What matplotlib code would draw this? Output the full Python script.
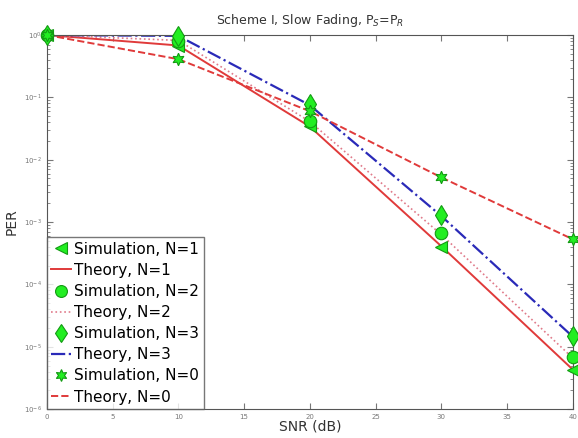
import numpy as np
import matplotlib
matplotlib.use('Agg')
import matplotlib.pyplot as plt

# SNR points (dB)
snr = [0, 10, 20, 30, 40]

# Simulated PER
sim_n1 = [1.0, 0.66, 0.035, 4.0e-4, 4.2e-6]
sim_n2 = [1.0, 0.80, 0.042, 6.6e-4, 6.8e-6]
sim_n3 = [1.0, 0.97, 0.078, 1.3e-3, 1.5e-5]
sim_n0 = [1.0, 0.41, 0.060, 5.2e-3, 5.3e-4]

# Theoretical PER
th_n1 = [1.0, 0.68, 0.034, 4.1e-4, 4.3e-6]
th_n2 = [1.0, 0.82, 0.041, 6.3e-4, 6.6e-6]
th_n3 = [1.0, 0.97, 0.075, 1.25e-3, 1.45e-5]
th_n0 = [1.0, 0.41, 0.060, 5.2e-3, 5.3e-4]

red = '#e03a3a'
pink = '#e07a8a'
blue = '#2a2ab8'
green = '#22ee22'
edge = '#139a13'

fig = plt.figure(figsize=(5.78, 4.38), dpi=100)
ax = fig.add_axes([0.081, 0.066, 0.910, 0.854])

mk = dict(linestyle='none', color=green, markeredgecolor=edge, markeredgewidth=0.8,
          zorder=5, clip_on=False)
ax.plot(snr, sim_n1, marker='<', markersize=9, label='Simulation, N=1', **mk)
ax.plot(snr, th_n1, color=red, linestyle='-', linewidth=1.4, label='Theory, N=1')
ax.plot(snr, sim_n2, marker='o', markersize=9, label='Simulation, N=2', **mk)
ax.plot(snr, th_n2, color=pink, linestyle=':', linewidth=1.2, label='Theory, N=2')
ax.plot(snr, sim_n3, marker='d', markersize=10, label='Simulation, N=3', **mk)
ax.plot(snr, th_n3, color=blue, linestyle='-.', linewidth=1.6, label='Theory, N=3')
ax.plot(snr, sim_n0, marker=(6, 1, 0), markersize=9, label='Simulation, N=0', **mk)
ax.plot(snr, th_n0, color=red, linestyle='--', linewidth=1.4, label='Theory, N=0')

ax.set_yscale('log')
ax.set_xlim(0, 40)
ax.set_ylim(1e-6, 1)
ax.set_xticks(range(0, 41, 5))
ax.tick_params(which='both', direction='in', top=True, right=True,
               labelsize=5, labelcolor='#777777', color='#777777')
ax.tick_params(which='major', length=4)
ax.tick_params(which='minor', length=2)
for s in ax.spines.values():
    s.set_color('#555555')

ax.set_title('Scheme I, Slow Fading, P$_S$=P$_R$', fontsize=9, color='#333333', pad=8)
ax.set_xlabel('SNR (dB)', fontsize=10, color='#333333', labelpad=0)
ax.set_ylabel('PER', fontsize=10, color='#333333', labelpad=4)

leg = ax.legend(loc='lower left', fontsize=11, handlelength=1.3, handletextpad=0.2,
                borderpad=0.3, labelspacing=0.4, borderaxespad=0.0,
                fancybox=False, frameon=True, markerscale=0.95)
leg.get_frame().set_edgecolor('#555555')
leg.get_frame().set_linewidth(1.0)

fig.savefig('out.png', dpi=100)
